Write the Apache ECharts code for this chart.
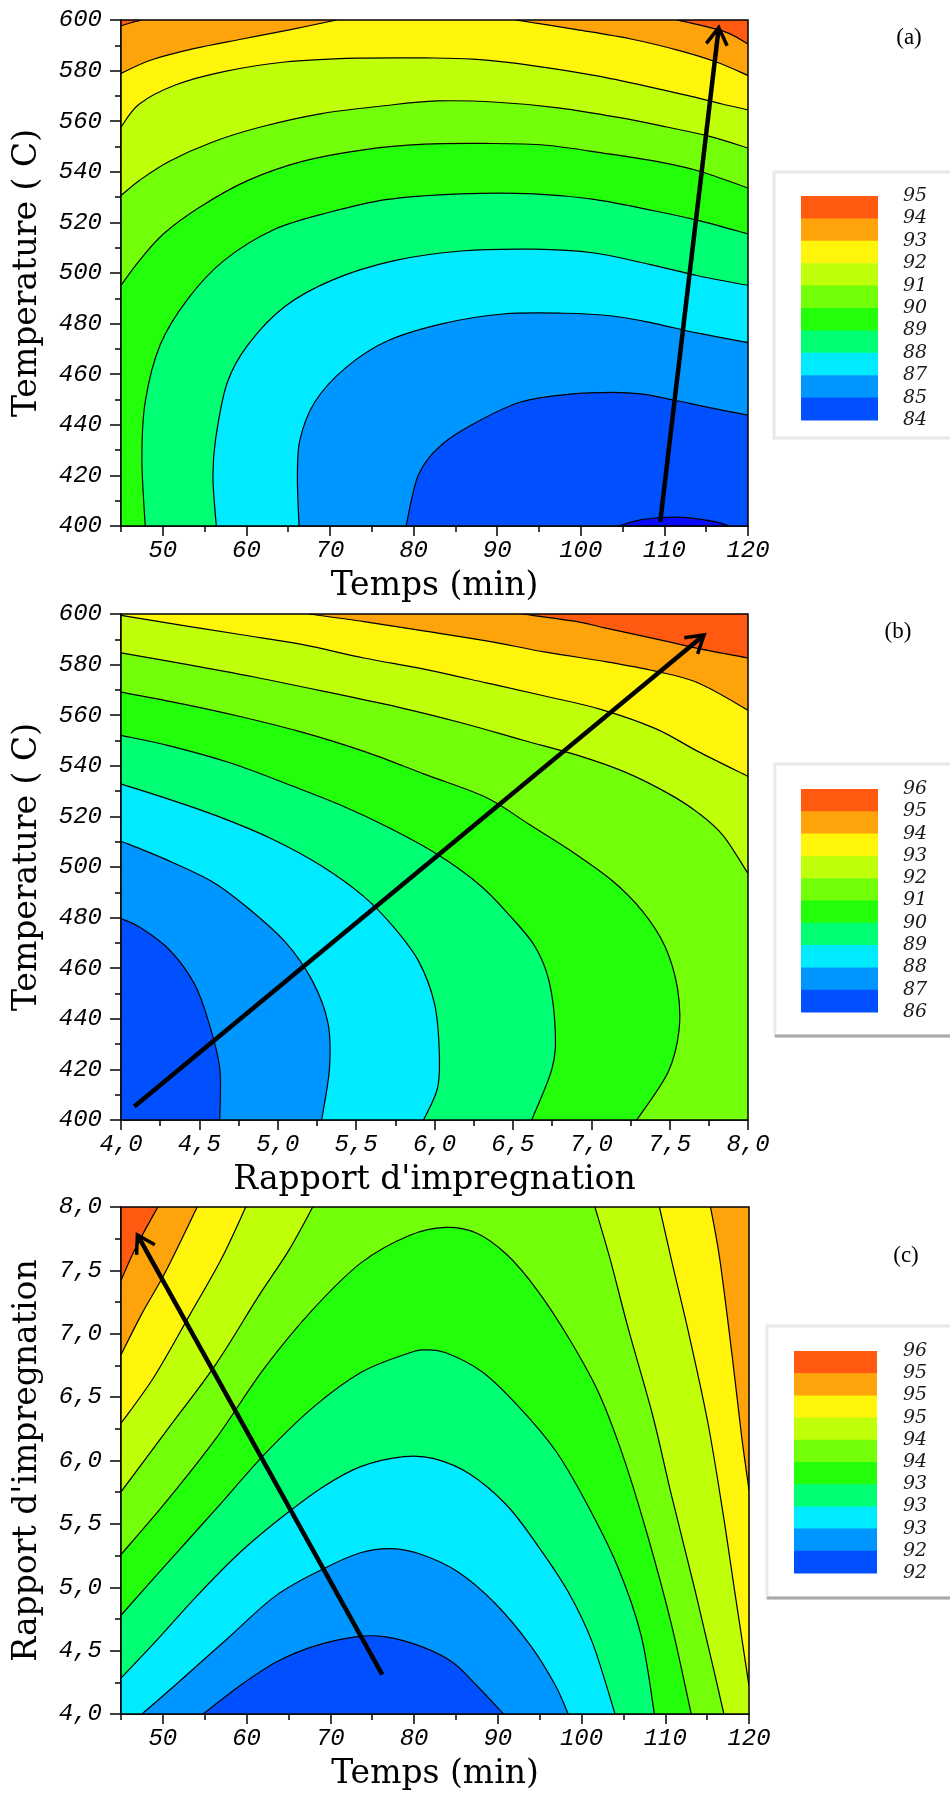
<!DOCTYPE html>
<html>
<head>
<meta charset="utf-8">
<script src="https://cdn.jsdelivr.net/npm/echarts@6/dist/echarts.min.js"></script>
<style>
  html, body { margin: 0; padding: 0; background: #ffffff; }
  #chart { width: 950px; height: 1795px; }
</style>
</head>
<body>
<div id="chart"></div>
<script>
// ---------- Axis ticks ----------
const tempsTicks = [50, 60, 70, 80, 90, 100, 110, 120];
const tempsMinorTicks = [45, 55, 65, 75, 85, 95, 105, 115];
const temperatureTicks = [400, 420, 440, 460, 480, 500, 520, 540, 560, 580, 600];
const temperatureMinorTicks = [410, 430, 450, 470, 490, 510, 530, 550, 570, 590];
const rapportTicks = [4.0, 4.5, 5.0, 5.5, 6.0, 6.5, 7.0, 7.5, 8.0];
const rapportMinorTicks = [4.25, 4.75, 5.25, 5.75, 6.25, 6.75, 7.25, 7.75];

// ---------- Colour keys (top to bottom) ----------
const legendA = ['95', '94', '93', '92', '91', '90', '89', '88', '87', '85', '84'];
const legendB = ['96', '95', '94', '93', '92', '91', '90', '89', '88', '87', '86'];
const legendC = ['96', '95', '95', '95', '94', '94', '93', '93', '93', '92', '92'];

// Band colours, highest band first
const bandColors = ['#ff5a0f', '#ffa30a', '#fff50a', '#c0ff0a', '#73ff0a',
                    '#23ff0a', '#00ff73', '#00ebff', '#0096ff', '#0050ff'];
const deepBlue = '#0a0aff';

// ---------- (a) Temps vs Temperature : iso-lines, highest level first ----------
const isoA94 = [[[45, 597.7], [46.2, 598.9], [47.5, 600]],
                [[111.5, 600], [114, 598.2], [117.5, 595], [120, 590.5]]];
const isoA93 = [[[45, 578.9], [48.6, 584.2], [53.7, 588.7], [59.5, 592.5], [65.3, 596.2], [70.8, 600]],
                [[92.2, 600], [99.5, 596.2], [106, 592.5], [111.8, 587.9], [116.2, 583.4], [120, 578.1]]];
const isoA92 = [[[45, 557.7], [47.2, 566.8], [51.5, 574.3], [57.3, 579.6], [64.6, 583.4], [73.3, 584.9], [81.3, 585],
                 [87.1, 584.5], [94.4, 581.9], [101.6, 578.1], [108.2, 573.6], [113.2, 569.8], [116.9, 566.8], [120, 564.5]]];
const isoA91 = [[[45, 530.6], [47.2, 536.6], [50.8, 544.2], [55.9, 551.7], [61.7, 557.7], [69, 563], [76.2, 566],
                 [82.8, 568], [90, 567.5], [97.3, 565.3], [104.5, 561.5], [110.3, 557.7], [115.4, 554], [120, 549.4]]];
const isoA90 = [[[45, 495.1], [47.2, 504.9], [50.1, 515.5], [54.4, 526], [60.2, 536.6], [66.8, 544.2], [74, 548.7],
                 [81.3, 550.9], [88.6, 551.2], [95.8, 550.5], [103.1, 547.2], [108.9, 544.2], [114, 540.4], [120, 533.6]]];
const isoA89 = [[[47.9, 400], [47.5, 426.4], [47.9, 449.1], [49.7, 471.7], [53, 489.8], [57.3, 504.9], [63.2, 517],
                 [69.7, 523.8], [76.9, 529.1], [85.7, 531.3], [94.4, 531.3], [101.6, 529.1], [108.9, 524.5], [114, 520.8], [120, 515.5]]];
const isoA88 = [[[56.4, 400], [56, 418.9], [56.3, 434], [57.7, 456.6], [60.2, 471.7], [64.6, 486.8], [70.4, 497.4],
                 [77.7, 504.9], [85.7, 508.7], [94.4, 509.4], [101.6, 507.9], [108.2, 503.4], [114, 498.9], [120, 495.1]]];
const isoA87 = [[[66.3, 400], [66.1, 418.9], [66.4, 434], [68.2, 449.1], [71.9, 462.6], [76.9, 473.2], [83.5, 480],
                 [90.7, 483.8], [98, 484.1], [103.8, 483], [108.9, 480], [114, 476.2], [120, 472.5]]];
const isoA85 = [[[79.1, 400], [80.6, 420.4], [83.5, 432.5], [87.8, 441.5], [92.9, 449.1], [98.7, 452.1], [103.8, 452.8],
                 [107.4, 452.1], [111.1, 449.8], [115.4, 446.8], [120, 443.8]]];
const isoA84 = [[[104.5, 400], [107.1, 402.4], [109.5, 403.3], [111.5, 403.5], [114, 402.8], [116.3, 401.5], [117.8, 400]]];
const lowPointA = [111, 401];
const arrowA = [[109.5, 401.7], [116.5, 597]];

// ---------- (b) Rapport d'impregnation vs Temperature ----------
const isoB95 = [[[6.56, 600], [6.91, 597], [7.1, 594.3], [7.41, 590.2], [7.68, 586.4], [8, 582.6]]];
const isoB94 = [[[5.2, 600], [5.55, 597], [5.94, 593.2], [6.33, 589.4], [6.71, 584.9], [7.1, 581.1], [7.41, 577.4], [7.68, 572.8], [8, 562]]];
const isoB93 = [[[4, 599.5], [4.39, 595.5], [4.78, 591.7], [5.16, 587.9], [5.55, 582.6], [5.94, 578.1], [6.33, 572.8],
                 [6.71, 567.5], [7.06, 562.3], [7.41, 554.7], [7.68, 545.7], [8, 535.8]]];
const isoB92 = [[[4, 584.6], [4.39, 580.4], [4.85, 575.1], [5.32, 569.1], [5.78, 563], [6.17, 557], [6.56, 550.2],
                 [6.91, 544.2], [7.22, 537.4], [7.49, 529.1], [7.68, 521.5], [7.84, 512.5], [8, 497.4]]];
const isoB91 = [[[4, 569.1], [4.39, 564.5], [4.78, 559.2], [5.16, 553.2], [5.55, 545.7], [5.94, 536.6], [6.33, 527.5], [6.6, 517],
                 [6.87, 506.4], [7.14, 494.3], [7.33, 482.3], [7.47, 468.7], [7.55, 452.1], [7.56, 435.5], [7.49, 418.9], [7.29, 400]]];
const isoB90 = [[[4, 552], [4.31, 547.9], [4.7, 541.1], [5.09, 532.1], [5.4, 524.5], [5.71, 515.5], [6.02, 504.9],
                 [6.29, 492.8], [6.48, 480.8], [6.64, 468.7], [6.73, 455.1], [6.77, 435.5], [6.75, 420.4], [6.62, 400]]];
const isoB89 = [[[4, 532.8], [4.27, 527.5], [4.62, 520], [4.97, 510.9], [5.28, 500.4], [5.55, 488.3], [5.74, 476.2],
                 [5.9, 462.6], [6, 446], [6.03, 427.9], [6.02, 412.8], [5.93, 400]]];
const isoB88 = [[[4, 510.2], [4.27, 503.4], [4.58, 494.3], [4.81, 483.8], [5.05, 470.2], [5.22, 455.1], [5.32, 438.5], [5.33, 420.4], [5.28, 400]]];
const isoB87 = [[[4, 479.6], [4.12, 476.2], [4.31, 467.2], [4.47, 453.6], [4.56, 438.5], [4.63, 420.4], [4.63, 400]]];
const lowPointB = [4.05, 401];
const arrowB = [[4.085, 405.3], [7.72, 591.7]];

// ---------- (c) Temps vs Rapport d'impregnation ----------
const isoC9 = [[[45, 7.422], [46.8, 7.685], [49.4, 8]]];
const isoC8 = [[[45, 6.835], [47.5, 7.159], [50.4, 7.499], [54.1, 8]],
               [[115.4, 8], [116.5, 7.592], [118, 6.819], [119.1, 6.201], [120, 5.768]]];
const isoC7 = [[[45, 6.294], [49, 6.665], [53.3, 7.159], [57, 7.592], [59.9, 8]],
               [[109.3, 8], [110.7, 7.592], [112.9, 6.974], [115.1, 6.294], [116.9, 5.583], [118.3, 4.964], [120, 4.222]]];
const isoC6 = [[[45, 5.753], [50.4, 6.232], [56.3, 6.757], [61.3, 7.283], [65, 7.654], [67.9, 8]],
               [[101.6, 8], [103.4, 7.592], [105.6, 7.036], [108.5, 6.355], [110.7, 5.737], [113.6, 4.964], [115.8, 4.346], [117, 4]]];
const isoC5 = [[[45, 5.258], [50.4, 5.675], [56.3, 6.17], [62.1, 6.726], [67.9, 7.19], [73.7, 7.561], [79.5, 7.777], [83.8, 7.839],
                [87.5, 7.793], [91.1, 7.623], [94.7, 7.345], [98.4, 6.974], [102, 6.541], [104.9, 6.046], [107.8, 5.428], [110.7, 4.717], [113.1, 4]]];
const isoC4 = [[[45, 4.779], [50.4, 5.181], [56.3, 5.614], [62.1, 6.046], [67.9, 6.417], [73.7, 6.696], [79.5, 6.85], [81.3, 6.872],
                [83.8, 6.85], [88.2, 6.696], [92.6, 6.417], [96.9, 6.077], [100.5, 5.675], [104.2, 5.181], [107.1, 4.624], [108.7, 4]]];
const isoC3 = [[[45, 4.284], [49, 4.563], [54.1, 4.934], [59.2, 5.274], [64.2, 5.552], [69.3, 5.799], [73.7, 5.954], [78.8, 6.031],
                [82.4, 6.015], [86.7, 5.892], [91.1, 5.645], [94.7, 5.335], [98.4, 4.964], [101.3, 4.563], [104, 4]]];
const isoC2 = [[[47.5, 4], [51.9, 4.253], [57.7, 4.594], [63.5, 4.934], [69.3, 5.15], [73.7, 5.274], [77.3, 5.305], [80.9, 5.258],
                [85.3, 5.119], [89.7, 4.872], [94, 4.532], [96.9, 4.223], [98.4, 4]]];
const isoC1 = [[[54.8, 4], [59.2, 4.223], [63.5, 4.408], [67.9, 4.532], [73, 4.609], [76.6, 4.609], [80.9, 4.532], [84.6, 4.408], [87.5, 4.223], [90.7, 4]]];
const lowPointC = [75, 4.05];
const arrowC = [[76.2, 4.31], [46.96, 7.78]];

// ---------- Region building on the plot rectangle ----------
// Perimeter parameter, counter-clockwise (y up): bottom 0-1, right 1-2, top 2-3, left 3-4
function perim(p, b) {
  const dx = b.x1 - b.x0, dy = b.y1 - b.y0;
  const d = [Math.abs(p[1] - b.y0) / dy, Math.abs(p[0] - b.x1) / dx, Math.abs(p[1] - b.y1) / dy, Math.abs(p[0] - b.x0) / dx];
  let e = 0;
  for (let i = 1; i < 4; i++) if (d[i] < d[e]) e = i;
  if (e === 0) return (p[0] - b.x0) / dx;
  if (e === 1) return 1 + (p[1] - b.y0) / dy;
  if (e === 2) return 2 + (b.x1 - p[0]) / dx;
  return 3 + (b.y1 - p[1]) / dy;
}
function corner(k, b) {
  return [[b.x0, b.y0], [b.x1, b.y0], [b.x1, b.y1], [b.x0, b.y1]][((k % 4) + 4) % 4];
}
function walk(s0, s1, b) {
  let t = s1;
  while (t <= s0 + 1e-9) t += 4;
  const out = [];
  for (let k = Math.floor(s0 + 1e-9) + 1; k < t - 1e-9; k++) out.push(corner(k, b));
  return out;
}
function inside(pt, poly) {
  let c = false;
  for (let i = 0, j = poly.length - 1; i < poly.length; j = i++) {
    const a = poly[i], q = poly[j];
    if ((a[1] > pt[1]) !== (q[1] > pt[1]) &&
        pt[0] < (q[0] - a[0]) * (pt[1] - a[1]) / (q[1] - a[1]) + a[0]) c = !c;
  }
  return c;
}
// Orient a piece so that the low side (containing the minimum) is on its left
function orient(piece, b, low) {
  const closed = piece.concat(walk(perim(piece[piece.length - 1], b), perim(piece[0], b), b));
  return inside(low, closed) ? piece : piece.slice().reverse();
}
// Low-side region of one iso-level: list of curve pieces and boundary walks
function lowRegion(pieces, b, low) {
  const ps = pieces.map(p => orient(p, b, low));
  const segs = [];
  const used = new Set();
  let i = 0;
  for (let guard = 0; guard < 10; guard++) {
    segs.push({ curve: ps[i] });
    used.add(i);
    const se = perim(ps[i][ps[i].length - 1], b);
    let best = 0, bd = Infinity;
    ps.forEach((p, j) => {
      let d = perim(p[0], b) - se;
      while (d <= 1e-9) d += 4;
      if (d < bd) { bd = d; best = j; }
    });
    segs.push({ walk: walk(se, perim(ps[best][0], b), b) });
    if (used.has(best)) break;
    i = best;
  }
  return segs;
}

// ---------- Path helpers (pixel space) ----------
const f2 = v => v.toFixed(2);
function curvePath(px, first) {
  let d = (first ? 'M' : 'L') + f2(px[0][0]) + ' ' + f2(px[0][1]);
  for (let i = 0; i < px.length - 1; i++) {
    const p0 = px[i - 1] || px[i], p1 = px[i], p2 = px[i + 1], p3 = px[i + 2] || px[i + 1];
    const c1 = [p1[0] + (p2[0] - p0[0]) / 6, p1[1] + (p2[1] - p0[1]) / 6];
    const c2 = [p2[0] - (p3[0] - p1[0]) / 6, p2[1] - (p3[1] - p1[1]) / 6];
    d += 'C' + [c1[0], c1[1], c2[0], c2[1], p2[0], p2[1]].map(f2).join(' ');
  }
  return d;
}
function regionPath(segs, api) {
  let d = '', first = true;
  segs.forEach(sg => {
    if (sg.curve) {
      d += curvePath(sg.curve.map(pt => api.coord(pt)), first);
      first = false;
    } else {
      sg.walk.forEach(c => { const q = api.coord(c); d += 'L' + f2(q[0]) + ' ' + f2(q[1]); });
    }
  });
  return d + 'Z';
}

// ---------- Panels ----------
const commaFmt = v => Number(v).toFixed(1).replace('.', ',');
const plainFmt = v => String(v);

const panels = [
  {
    grid: { left: 121, top: 20, width: 627, height: 506 },
    x: { min: 45, max: 120, ticks: tempsTicks, minor: tempsMinorTicks, name: 'Temps (min)', fmt: plainFmt },
    y: { min: 400, max: 600, ticks: temperatureTicks, minor: temperatureMinorTicks, name: 'Temperature ( C)', fmt: plainFmt },
    iso: [isoA94, isoA93, isoA92, isoA91, isoA90, isoA89, isoA88, isoA87, isoA85, isoA84],
    colors: bandColors.concat([deepBlue]), low: lowPointA, arrow: arrowA,
    legend: legendA, box: { x: 774, y: 172, h: 266, dark: false },
    sw: { x: 801, y: 196, w: 77, h: 22.4 }, tag: '(a)', tagPos: [909, 38]
  },
  {
    grid: { left: 121, top: 614, width: 627, height: 506 },
    x: { min: 4, max: 8, ticks: rapportTicks, minor: rapportMinorTicks, name: "Rapport d'impregnation", fmt: commaFmt },
    y: { min: 400, max: 600, ticks: temperatureTicks, minor: temperatureMinorTicks, name: 'Temperature ( C)', fmt: plainFmt },
    iso: [isoB95, isoB94, isoB93, isoB92, isoB91, isoB90, isoB89, isoB88, isoB87],
    colors: bandColors, low: lowPointB, arrow: arrowB,
    legend: legendB, box: { x: 775, y: 764, h: 272, dark: true },
    sw: { x: 801, y: 789, w: 77, h: 22.3 }, tag: '(b)', tagPos: [898, 632]
  },
  {
    grid: { left: 121, top: 1207, width: 628, height: 507 },
    x: { min: 45, max: 120, ticks: tempsTicks, minor: tempsMinorTicks, name: 'Temps (min)', fmt: plainFmt },
    y: { min: 4, max: 8, ticks: rapportTicks, minor: rapportMinorTicks, name: "Rapport d'impregnation", fmt: commaFmt },
    iso: [isoC9, isoC8, isoC7, isoC6, isoC5, isoC4, isoC3, isoC2, isoC1],
    colors: bandColors, low: lowPointC, arrow: arrowC,
    legend: legendC, box: { x: 767, y: 1326, h: 272, dark: true },
    sw: { x: 794, y: 1351, w: 83, h: 22.2 }, tag: '(c)', tagPos: [906, 1256]
  }
];

const tickFont = { fontFamily: 'Liberation Mono', fontStyle: 'italic', fontSize: 24, color: '#000' };
const nameFont = { fontFamily: 'DejaVu Serif', fontSize: 33, color: '#000', verticalAlign: 'middle', align: 'center' };
const blackLine = { color: '#000', width: 1.5 };

const grids = [], xAxes = [], yAxes = [], series = [], graphics = [];

panels.forEach((p, i) => {
  grids.push(Object.assign({ containLabel: false }, p.grid));
  const b = { x0: p.x.min, x1: p.x.max, y0: p.y.min, y1: p.y.max };
  const regions = p.iso.map(pieces => lowRegion(pieces, b, p.low));

  const xi = xAxes.length;
  xAxes.push({
    gridIndex: i, type: 'value', min: p.x.min, max: p.x.max, position: 'bottom',
    axisLine: { show: true, onZero: false, lineStyle: blackLine },
    axisTick: { show: true, length: 10, customValues: p.x.ticks, lineStyle: blackLine },
    axisLabel: Object.assign({ show: true, customValues: p.x.ticks, margin: 13, formatter: p.x.fmt }, tickFont),
    splitLine: { show: false },
    name: p.x.name, nameLocation: 'middle', nameGap: 60, nameTextStyle: nameFont
  });
  xAxes.push({
    gridIndex: i, type: 'value', min: p.x.min, max: p.x.max, position: 'bottom', offset: 0,
    axisLine: { show: false },
    axisTick: { show: true, length: 6, customValues: p.x.minor, lineStyle: blackLine },
    axisLabel: { show: false }, splitLine: { show: false }
  });
  const yi = yAxes.length;
  yAxes.push({
    gridIndex: i, type: 'value', min: p.y.min, max: p.y.max, position: 'left',
    axisLine: { show: true, onZero: false, lineStyle: blackLine },
    axisTick: { show: true, length: 11, customValues: p.y.ticks, lineStyle: blackLine },
    axisLabel: Object.assign({ show: true, customValues: p.y.ticks, margin: 19, formatter: p.y.fmt }, tickFont),
    splitLine: { show: false },
    name: p.y.name, nameLocation: 'middle', nameGap: 94, nameTextStyle: nameFont
  });
  yAxes.push({
    gridIndex: i, type: 'value', min: p.y.min, max: p.y.max, position: 'left', offset: 0,
    axisLine: { show: false },
    axisTick: { show: true, length: 6, customValues: p.y.minor, lineStyle: blackLine },
    axisLabel: { show: false }, splitLine: { show: false }
  });

  // Filled bands, iso-lines and direction arrow
  series.push({
    type: 'custom', xAxisIndex: xi, yAxisIndex: yi, clip: true, silent: true, animation: false,
    data: [[p.x.min, p.y.min]],
    renderItem: (params, api) => {
      const tl = api.coord([p.x.min, p.y.max]);
      const br = api.coord([p.x.max, p.y.min]);
      const children = [{
        type: 'rect', shape: { x: tl[0], y: tl[1], width: br[0] - tl[0], height: br[1] - tl[1] },
        style: { fill: p.colors[0] }
      }];
      regions.forEach((segs, k) => {
        children.push({ type: 'path', shape: { pathData: regionPath(segs, api) }, style: { fill: p.colors[k + 1] } });
      });
      p.iso.forEach(pieces => pieces.forEach(piece => {
        children.push({
          type: 'path', shape: { pathData: curvePath(piece.map(pt => api.coord(pt)), true) },
          style: { fill: 'none', stroke: '#000', lineWidth: 1.2 }
        });
      }));
      const a = api.coord(p.arrow[0]), t = api.coord(p.arrow[1]);
      const len = Math.hypot(t[0] - a[0], t[1] - a[1]);
      const ux = (t[0] - a[0]) / len, uy = (t[1] - a[1]) / len;
      const hl = 20, ang = 0.55;
      const h1 = [t[0] - hl * (ux * Math.cos(ang) - uy * Math.sin(ang)), t[1] - hl * (uy * Math.cos(ang) + ux * Math.sin(ang))];
      const h2 = [t[0] - hl * (ux * Math.cos(ang) + uy * Math.sin(ang)), t[1] - hl * (uy * Math.cos(ang) - ux * Math.sin(ang))];
      children.push({ type: 'polyline', shape: { points: [a, [t[0] - ux * 1.5, t[1] - uy * 1.5]] }, style: { stroke: '#000', lineWidth: 4.5, fill: 'none' } });
      children.push({ type: 'polyline', shape: { points: [h1, t, h2] }, style: { stroke: '#000', lineWidth: 3.5, fill: 'none', lineJoin: 'miter' } });
      return { type: 'group', children };
    }
  });

  // Plot frame
  graphics.push({
    type: 'rect', z: 100,
    shape: { x: p.grid.left, y: p.grid.top, width: p.grid.width, height: p.grid.height },
    style: { fill: 'none', stroke: '#000', lineWidth: 1.5 }
  });

  // Colour key box
  graphics.push({
    type: 'rect', z: 10,
    shape: { x: p.box.x, y: p.box.y, width: 950 - p.box.x + 20, height: p.box.h },
    style: { fill: '#ffffff', stroke: '#e9e9e9', lineWidth: 3 }
  });
  if (p.box.dark) {
    graphics.push({
      type: 'line', z: 11,
      shape: { x1: p.box.x, y1: p.box.y + p.box.h, x2: 950, y2: p.box.y + p.box.h },
      style: { stroke: '#a9a9a9', lineWidth: 3 }
    });
  }
  p.colors.slice(0, 10).forEach((c, k) => {
    graphics.push({
      type: 'rect', z: 12,
      shape: { x: p.sw.x, y: p.sw.y + k * p.sw.h, width: p.sw.w, height: p.sw.h + 0.6 },
      style: { fill: c }
    });
  });
  p.legend.forEach((lab, k) => {
    graphics.push({
      type: 'text', z: 12, x: 903, y: p.sw.y + k * p.sw.h,
      style: { text: lab, font: 'italic 19px "DejaVu Serif"', fill: '#1a1a1a', align: 'left', verticalAlign: 'middle' }
    });
  });
  graphics.push({
    type: 'text', z: 12, x: p.tagPos[0], y: p.tagPos[1],
    style: { text: p.tag, font: '23px "Liberation Serif"', fill: '#000', align: 'center', verticalAlign: 'middle' }
  });
});

const chart = echarts.init(document.getElementById('chart'), null, { renderer: 'canvas' });
chart.setOption({
  backgroundColor: '#ffffff',
  animation: false,
  grid: grids,
  xAxis: xAxes,
  yAxis: yAxes,
  series: series,
  graphic: { elements: graphics }
});
</script>
</body>
</html>
